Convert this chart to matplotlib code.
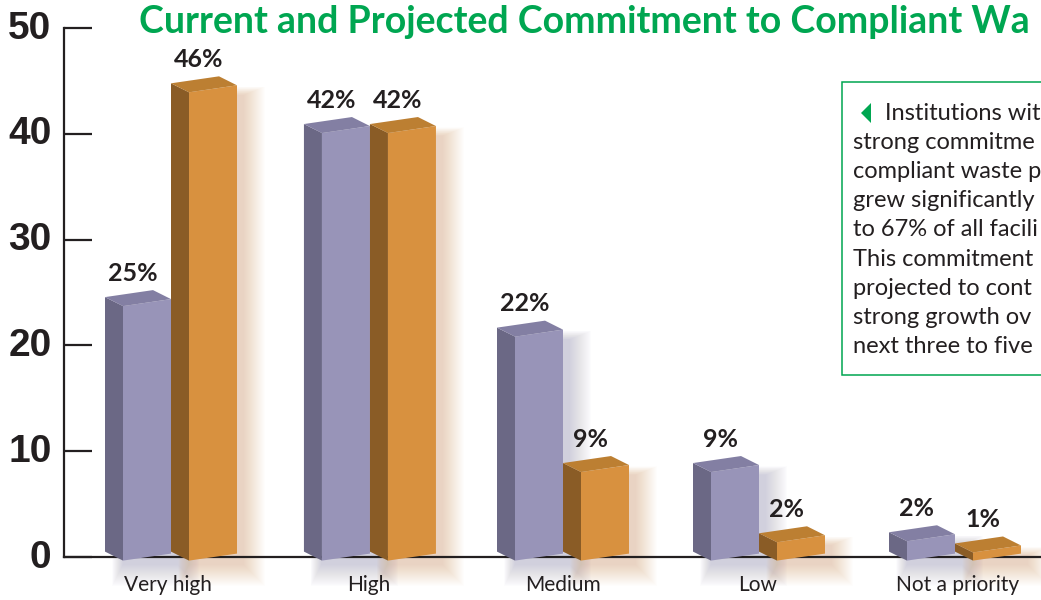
import matplotlib
matplotlib.use('Agg')
import matplotlib.pyplot as plt
from matplotlib.patches import Polygon, Rectangle
from matplotlib.transforms import ScaledTranslation

categories = ['Very high', 'High', 'Medium', 'Low', 'Not a priority']
current = [25, 42, 22, 8.7, 1.9]
projected = [46, 42, 8.7, 1.8, 0.8]
y_ticks = [0, 10, 20, 30, 40, 50]
title = 'Current and Projected Commitment to Compliant Wa'
note_lines = ['Institutions wit', 'strong commitme', 'compliant waste p', 'grew significantly',
              'to 67% of all facili', 'This commitment', 'projected to cont',
              'strong growth ov', 'next three to five']

W, H = 1041, 600
label_font = ['Lato', 'DejaVu Sans']

# group positions, the second group sits slightly off the regular spacing
group_pos = [0, 1.015, 2, 3, 4]
label_pos = [-0.015, 1.01, 2.0, 2.995, 4.015]
px_x = 196.0
px_y = 529 / 50
bar_w = 48 / px_x
depth_x = 18 / px_x
depth_y = 9 / px_y
skew = 7 / px_y
scale = 10.18 / px_y
base = -3.6 / px_y

purple = {'front': '#9894B8', 'side': '#6B6885', 'top': '#837FA3', 'shadow': '#7C78A8'}
orange = {'front': '#D8913F', 'side': '#8A5C26', 'top': '#BC7F32', 'shadow': '#D08A50'}

fig = plt.figure(figsize=(W / 100, H / 100), dpi=100)
ax = fig.add_axes([64 / W, 43 / H, (W - 64) / W, 529 / H])
ax.set_xlim(-(171 - 64) / px_x, (W - 171) / px_x)
ax.set_ylim(0, 50)
for s in ['top', 'right']:
    ax.spines[s].set_visible(False)
for s in ['left', 'bottom']:
    ax.spines[s].set_linewidth(1.6)
    ax.spines[s].set_color('#231F20')
    ax.spines[s].set_zorder(2)


def draw_bar(x, value, col):
    y0 = base
    y1 = base + value * scale
    # soft shadow, stacked see-through layers
    n = 22
    for i in range(n):
        g = (n - i) * 1.0 / px_x
        gy = (n - i) * 1.0 / px_y
        ax.add_patch(Rectangle((x - g * 0.5, y0 - 0.3 - gy), bar_w + 6 / px_x + 1.5 * g,
                               y1 - y0 + 1.4 * gy, fc=col['shadow'], ec='none', alpha=0.016,
                               clip_on=False, zorder=1))
    side = [(x, y0), (x, y1), (x - depth_x, y1 + depth_y), (x - depth_x, y0 + depth_y)]
    front = [(x, y0), (x + bar_w, y0 + skew), (x + bar_w, y1 + skew), (x, y1)]
    top = [(x, y1), (x + bar_w, y1 + skew), (x + bar_w - depth_x, y1 + skew + depth_y), (x - depth_x, y1 + depth_y)]
    ax.add_patch(Polygon(side, fc=col['side'], ec='none', clip_on=False, zorder=3))
    ax.add_patch(Polygon(front, fc=col['front'], ec='none', clip_on=False, zorder=3))
    ax.add_patch(Polygon(top, fc=col['top'], ec='none', clip_on=False, zorder=3))
    ax.annotate(f'{value:.0f}%', (x + 10 / px_x, y1 + skew + depth_y), xytext=(0, 6.8), textcoords='offset points',
                ha='center', va='baseline', fontsize=18, fontweight='bold', family=label_font, color='#231F20', zorder=5)


for i in range(len(categories)):
    draw_bar(group_pos[i] - 48 / px_x, current[i], purple)
    draw_bar(group_pos[i] + 18 / px_x, projected[i], orange)

ax.set_yticks(y_ticks)
ax.set_yticklabels(y_ticks, fontsize=28, fontweight='bold', family='Liberation Sans', color='#231F20')
ax.tick_params(axis='y', direction='in', length=20, width=1.6, color='#231F20', pad=9)
# tick numbers sit a little above their ticks
for lab in ax.get_yticklabels():
    lab.set_transform(lab.get_transform() + ScaledTranslation(0, 2.5 / 72, fig.dpi_scale_trans))
ax.set_xticks(label_pos)
ax.set_xticklabels(categories, fontsize=15, family=label_font, color='#231F20')
ax.tick_params(axis='x', length=0, pad=13)

fig.text(139 / W, 1 - 33 / H, title, fontsize=27, fontweight='bold', family='Lato', color='#00A651')

# note box runs off the right edge
fig.add_artist(Rectangle((842 / W, 1 - 375 / H), 220 / W, 293 / H, transform=fig.transFigure,
                         fc='white', ec='#00A651', lw=1.1, zorder=6))
fig.add_artist(Polygon([(861 / W, 1 - 113 / H), (871 / W, 1 - 103 / H), (871 / W, 1 - 123 / H)],
                       transform=fig.transFigure, fc='#00A651', ec='none', zorder=7))
for i, line in enumerate(note_lines):
    x = 885 if i == 0 else 853
    fig.text(x / W, 1 - (120 + i * 29.1) / H, line, fontsize=17, family=label_font, color='#231F20', zorder=7)

fig.savefig('out.png', dpi=100)
